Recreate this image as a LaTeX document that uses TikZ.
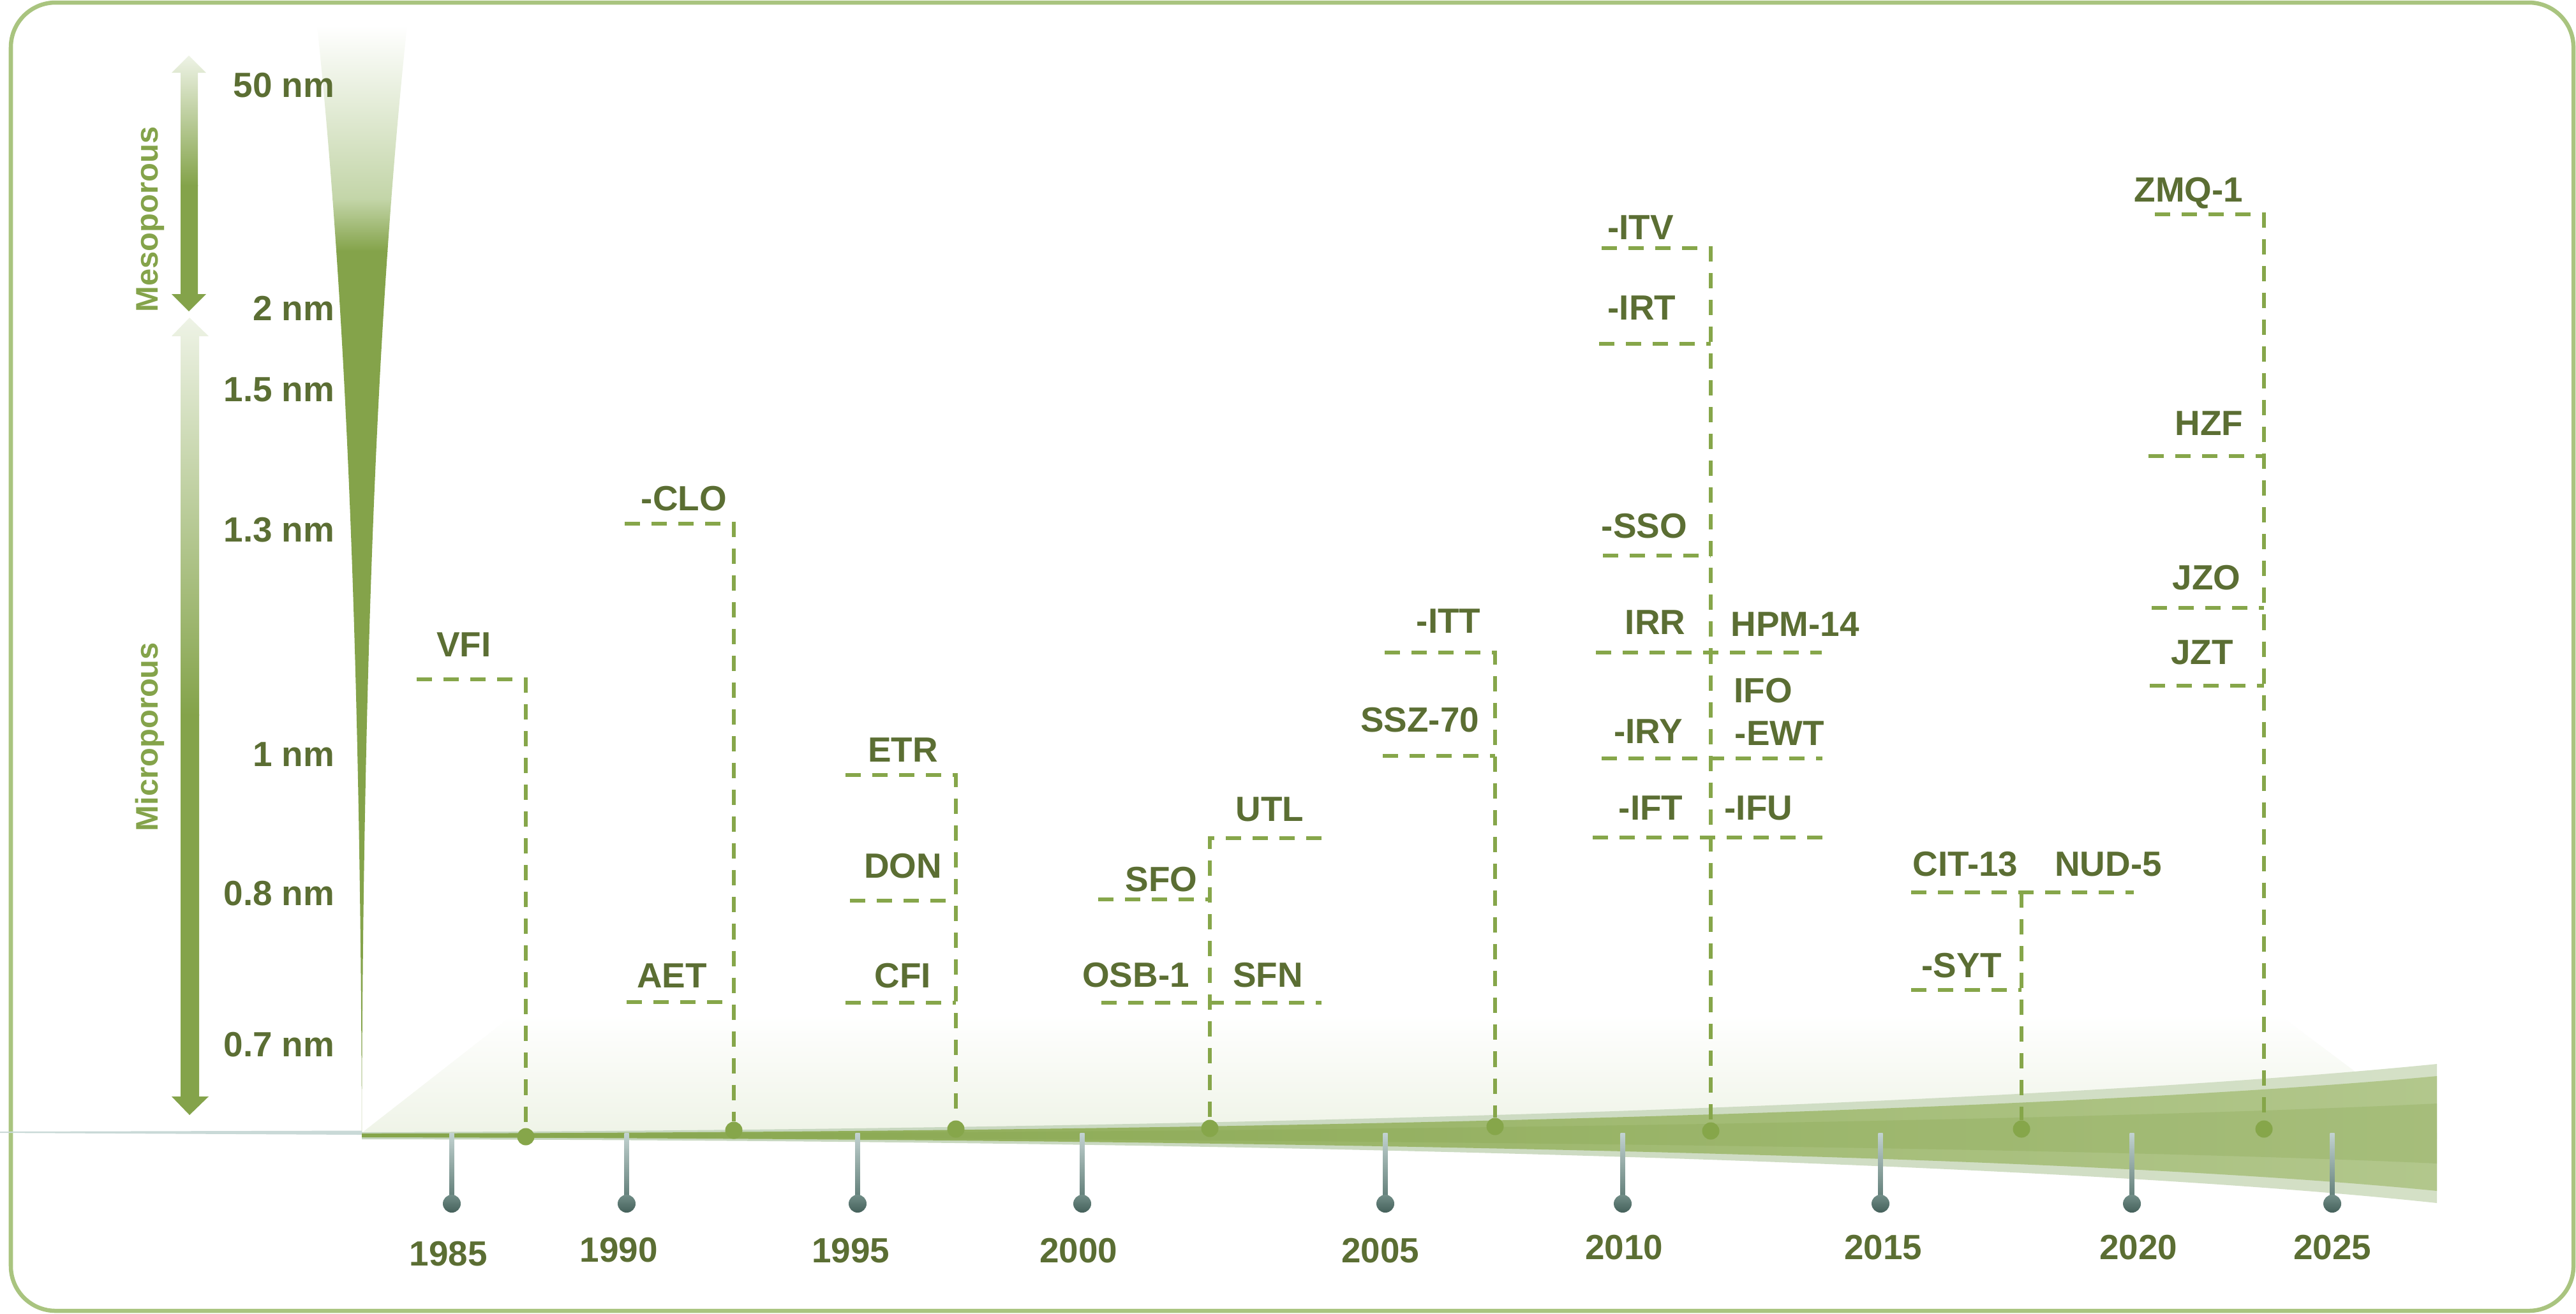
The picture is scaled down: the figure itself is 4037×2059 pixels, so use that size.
\documentclass[tikz,border=0pt]{standalone}
\usepackage{fontspec}
\setmainfont{Liberation Sans}
\usetikzlibrary{calc}

\definecolor{frame}{HTML}{A9C47F}
\definecolor{lblgreen}{HTML}{5B6E33}
\definecolor{dashgreen}{HTML}{86A64A}
\definecolor{leafgreen}{HTML}{84A34A}
\definecolor{paleleaf}{HTML}{EEF3E6}
\definecolor{wedgemid}{HTML}{C3D5A8}
\definecolor{bandout}{HTML}{C4D5BE}
\definecolor{bandoutR}{HTML}{D4E0C6}
\definecolor{bandin}{HTML}{86A64A}
\definecolor{bandinR}{HTML}{B2C78C}
\definecolor{ticktop}{HTML}{C3D3D1}
\definecolor{tickbot}{HTML}{5F7C76}
\definecolor{dotlight}{HTML}{728E88}
\definecolor{dotdark}{HTML}{44605A}
\definecolor{axisgrey}{HTML}{C9D9D7}

\tikzset{
  lbl/.style={font=\fontsize{15.6}{18}\selectfont\bfseries, text=lblgreen, inner sep=0pt, anchor=base},
  sizelbl/.style={lbl, anchor=base east},
  kindlbl/.style={font=\fontsize{13.9}{16}\selectfont\bfseries, text=leafgreen, inner sep=0pt, rotate=90, anchor=base},
  rung/.style={draw=dashgreen, line width=0.055cm, dash pattern=on 0.24cm off 0.18cm},
  gdot/.style={circle, fill=dashgreen, inner sep=0pt, minimum size=0.27cm},
  ydot/.style={circle, inner sep=0pt, minimum size=0.28cm, top color=dotlight, bottom color=dotdark},
}

\begin{document}
\begin{tikzpicture}[x=0.01cm, y=-0.01cm]
  \fill[white] (0,0) rectangle (4037,2059);
  \useasboundingbox (0,0) rectangle (4037,2059);
  \draw[frame, line width=0.065cm, rounded corners=0.7cm] (17,4) rectangle (4033,2055);

  % pale ground and the growing bands
  \shade[top color=white, bottom color=paleleaf] (567,1776) -- (804,1591) -- (3572,1591) -- (3819,1776) -- (3819,1786) -- (567,1786) -- cycle;
  \fill[axisgrey] (0,1774) -- (567,1772.5) -- (567,1779) -- (0,1776) -- cycle;
  \shade[left color=bandout, right color=bandoutR] (567,1775) .. controls (2200,1770) and (3300,1720) .. (3819,1668)
    -- (3819,1886) .. controls (3300,1830) and (2200,1788) .. (567,1786) -- cycle;
  \shade[left color=bandin, right color=bandinR] (567,1777) .. controls (2200,1775) and (3300,1735) .. (3819,1687)
    -- (3819,1867) .. controls (3300,1815) and (2200,1786) .. (567,1783) -- cycle;
  \fill[leafgreen, opacity=0.25] (567,1778) .. controls (2200,1777) and (3300,1755) .. (3819,1730)
    -- (3819,1824) .. controls (3300,1800) and (2200,1785) .. (567,1782) -- cycle;

  % pore size wedge
  \begin{scope}
    \clip (497,40) .. controls (540,450) and (565,1000) .. (567,1776) .. controls (569,1000) and (594,450) .. (638,40) -- cycle;
    \shade[top color=white, bottom color=wedgemid] (480,40) rectangle (660,313);
    \shade[top color=wedgemid, bottom color=leafgreen] (480,312) rectangle (660,394);
    \fill[leafgreen] (480,393) rectangle (660,1780);
  \end{scope}

  % range arrows
  \begin{scope}
    \clip (296,87) -- (323,114) -- (310,114) -- (310,461) -- (323,461) -- (296,488) -- (269,461) -- (283,461) -- (283,114) -- (269,114) -- cycle;
    \shade[top color=paleleaf, bottom color=leafgreen] (260,87) rectangle (330,291);
    \fill[leafgreen] (260,290) rectangle (330,490);
  \end{scope}
  \begin{scope}
    \clip (297,498) -- (327,527) -- (312,527) -- (312,1719) -- (327,1719) -- (297,1748) -- (269,1719) -- (283,1719) -- (283,527) -- (269,527) -- cycle;
    \shade[top color=paleleaf, bottom color=leafgreen] (260,498) rectangle (330,1121);
    \fill[leafgreen] (260,1120) rectangle (330,1750);
  \end{scope}

  \node[kindlbl] (meso) at (247,344) {Mesoporous};
  \node[kindlbl] (micro) at (247,1155) {Microporous};

  \node[sizelbl] (s50) at (525,152) {50 nm};
  \node[sizelbl] (s20) at (525,502) {2 nm};
  \node[sizelbl] (s15) at (525,629) {1.5 nm};
  \node[sizelbl] (s13) at (525,849) {1.3 nm};
  \node[sizelbl] (s10) at (525,1201) {1 nm};
  \node[sizelbl] (s08) at (525,1419) {0.8 nm};
  \node[sizelbl] (s07) at (525,1656) {0.7 nm};

  % year ticks
  \foreach \yr/\x/\lx/\b in {1985/708/703/1984, 1990/982/970/1978, 1995/1344/1333/1979,
      2000/1696/1690/1979, 2005/2171/2163/1979, 2010/2543/2545/1974,
      2015/2947/2951/1974, 2020/3341/3351/1974, 2025/3655/3655/1974} {
    \coordinate (t\yr) at (\x,1776);
    \coordinate (b\yr) at (\x,1880);
    \shade[top color=ticktop, bottom color=tickbot] ($(t\yr)+(-3.5,0)$) rectangle ($(b\yr)+(3.5,0)$);
    \node[ydot] (y\yr) at (\x,1887) {};
    \node[lbl] (l\yr) at (\lx,\b) {\yr};
  }

  % timeline dots
  \node[gdot] (dVFI) at (824,1782) {};
  \node[gdot] (dCLO) at (1150,1772) {};
  \node[gdot] (dCFI) at (1498,1770) {};
  \node[gdot] (dSFN) at (1896,1769) {};
  \node[gdot] (dITT) at (2343,1766) {};
  \node[gdot] (dIFU) at (2681,1773) {};
  \node[gdot] (dSYT) at (3168,1770) {};
  \node[gdot] (dZMQ) at (3548,1770) {};

  % rung ends
  \coordinate (aVFI) at (653,1065);
  \coordinate (aCLO) at (979,821);
  \coordinate (aAET) at (982,1571);
  \coordinate (aETR) at (1325,1215);
  \coordinate (aDON) at (1332,1412);
  \coordinate (aCFI) at (1325,1572);
  \coordinate (bUTL) at (2071,1314);
  \coordinate (aSFO) at (1721,1410);
  \coordinate (aOSB) at (1726,1572);
  \coordinate (bSFN) at (2071,1572);
  \coordinate (aITT) at (2170,1023);
  \coordinate (aSSZ) at (2167,1185);
  \coordinate (aITV) at (2510,389);
  \coordinate (aIRT) at (2506,539);
  \coordinate (aSSO) at (2512,871);
  \coordinate (aIRR) at (2501,1023);
  \coordinate (bHPM) at (2855,1023);
  \coordinate (aIRY) at (2510,1189);
  \coordinate (bEWT) at (2856,1189);
  \coordinate (aIFT) at (2496,1313);
  \coordinate (bIFU) at (2858,1313);
  \coordinate (aCIT) at (2995,1399);
  \coordinate (bNUD) at (3344,1399);
  \coordinate (aSYT) at (2995,1552);
  \coordinate (aZMQ) at (3377,336);
  \coordinate (aHZF) at (3367,715);
  \coordinate (aJZO) at (3372,953);
  \coordinate (aJZT) at (3369,1075);

  \draw[rung] (aVFI) -| (dVFI);
  \draw[rung] (aCLO) -| (dCLO);
  \draw[rung] (aAET) -- (aAET -| dCLO);
  \draw[rung] (aETR) -| (dCFI);
  \draw[rung] (aDON) -- (aDON -| dCFI);
  \draw[rung] (aCFI) -- (aCFI -| dCFI);
  \draw[rung] (bUTL) -| (dSFN);
  \draw[rung] (aSFO) -- (aSFO -| dSFN);
  \draw[rung] (aOSB) -- (bSFN);
  \draw[rung] (aITT) -| (dITT);
  \draw[rung] (aSSZ) -- (aSSZ -| dITT);
  \draw[rung] (aITV) -| (dIFU);
  \draw[rung] (aIRT) -- (aIRT -| dIFU);
  \draw[rung] (aSSO) -- (aSSO -| dIFU);
  \draw[rung] (aIRR) -- (bHPM);
  \draw[rung] (aIRY) -- (bEWT);
  \draw[rung] (aIFT) -- (bIFU);
  \draw[rung] (aCIT) -- (bNUD);
  \draw[rung] (aCIT -| dSYT) -- (dSYT);
  \draw[rung] (aSYT) -- (aSYT -| dSYT);
  \draw[rung] (aZMQ) -| (dZMQ);
  \draw[rung] (aHZF) -- (aHZF -| dZMQ);
  \draw[rung] (aJZO) -- (aJZO -| dZMQ);
  \draw[rung] (aJZT) -- (aJZT -| dZMQ);

  % framework codes
  \node[lbl] (VFI) at (727,1029) {VFI};
  \node[lbl] (CLO) at (1072,800) {-CLO};
  \node[lbl] (AET) at (1053,1548) {AET};
  \node[lbl] (ETR) at (1415,1194) {ETR};
  \node[lbl] (DON) at (1415,1376) {DON};
  \node[lbl] (CFI) at (1415,1548) {CFI};
  \node[lbl] (UTL) at (1990,1287) {UTL};
  \node[lbl] (SFO) at (1820,1397) {SFO};
  \node[lbl] (OSB1) at (1780,1547) {OSB-1};
  \node[lbl] (SFN) at (1987,1547) {SFN};
  \node[lbl] (ITT) at (2270,992) {-ITT};
  \node[lbl] (SSZ70) at (2225,1147) {SSZ-70};
  \node[lbl] (ITV) at (2571,375) {-ITV};
  \node[lbl] (IRT) at (2573,501) {-IRT};
  \node[lbl] (SSO) at (2577,843) {-SSO};
  \node[lbl] (IRR) at (2594,994) {IRR};
  \node[lbl] (HPM14) at (2813,997) {HPM-14};
  \node[lbl] (IFO) at (2763,1101) {IFO};
  \node[lbl] (EWT) at (2789,1168) {-EWT};
  \node[lbl] (IRY) at (2583,1165) {-IRY};
  \node[lbl] (IFT) at (2587,1285) {-IFT};
  \node[lbl] (IFU) at (2756,1285) {-IFU};
  \node[lbl] (CIT13) at (3080,1373) {CIT-13};
  \node[lbl] (NUD5) at (3304,1373) {NUD-5};
  \node[lbl] (SYT) at (3074,1532) {-SYT};
  \node[lbl] (ZMQ1) at (3430,316) {ZMQ-1};
  \node[lbl] (HZF) at (3462,682) {HZF};
  \node[lbl] (JZO) at (3458,924) {JZO};
  \node[lbl] (JZT) at (3451,1041) {JZT};
\end{tikzpicture}
\end{document}
